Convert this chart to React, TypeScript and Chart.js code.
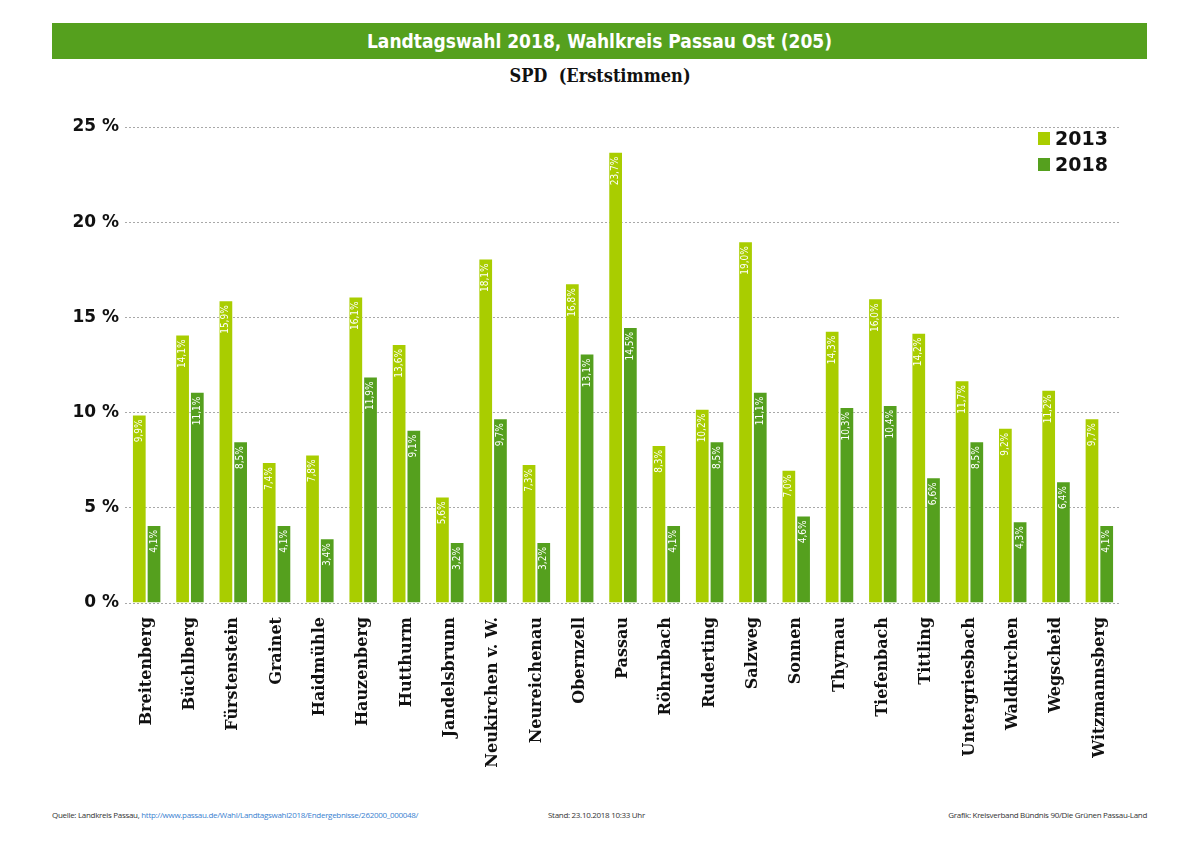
import React, { useEffect, useRef } from "react";
import { Chart, registerables } from "chart.js";

Chart.register(...registerables);

const categories = [
  "Breitenberg", "Büchlberg", "Fürstenstein", "Grainet", "Haidmühle", "Hauzenberg",
  "Hutthurm", "Jandelsbrunn", "Neukirchen v. W.", "Neureichenau", "Obernzell", "Passau",
  "Röhrnbach", "Ruderting", "Salzweg", "Sonnen", "Thyrnau", "Tiefenbach", "Tittling",
  "Untergriesbach", "Waldkirchen", "Wegscheid", "Witzmannsberg",
];
const values2013 = [9.9, 14.1, 15.9, 7.4, 7.8, 16.1, 13.6, 5.6, 18.1, 7.3, 16.8, 23.7, 8.3, 10.2, 19.0, 7.0, 14.3, 16.0, 14.2, 11.7, 9.2, 11.2, 9.7];
const values2018 = [4.1, 11.1, 8.5, 4.1, 3.4, 11.9, 9.1, 3.2, 9.7, 3.2, 13.1, 14.5, 4.1, 8.5, 11.1, 4.6, 10.3, 10.4, 6.6, 8.5, 4.3, 6.4, 4.1];
const seriesNames = ["2013", "2018"];
const yTicks = [0, 5, 10, 15, 20, 25];

const LIGHT = "#a9cd00";
const DARK = "#55a01e";

const fmt = (v: number) => v.toFixed(1).replace(".", ",") + "%";

const labelPlugin = {
  id: "barLabels",
  afterDatasetsDraw(chart: any) {
    const ctx = chart.ctx;
    ctx.save();
    ctx.fillStyle = "#ffffff";
    ctx.font = '10px "DejaVu Sans Condensed", "Liberation Sans Narrow", Roboto, sans-serif';
    ctx.textAlign = "right";
    ctx.textBaseline = "middle";
    chart.data.datasets.forEach((ds: any, di: number) => {
      const meta = chart.getDatasetMeta(di);
      meta.data.forEach((bar: any, i: number) => {
        const v = ds.data[i];
        ctx.save();
        ctx.translate(bar.x, bar.y + 5);
        ctx.rotate(-Math.PI / 2);
        ctx.fillText(fmt(v), 0, 0);
        ctx.restore();
      });
    });
    ctx.restore();
  },
};

export default function App() {
  const ref = useRef<HTMLCanvasElement>(null);

  useEffect(() => {
    document.body.style.margin = "0";
    const chart = new Chart(ref.current!, {
      type: "bar",
      data: {
        labels: categories,
        datasets: [
          { label: seriesNames[0], data: values2013, backgroundColor: LIGHT, borderColor: "rgba(255,255,255,0.3)", borderWidth: 1 },
          { label: seriesNames[1], data: values2018, backgroundColor: DARK, borderColor: "rgba(255,255,255,0.3)", borderWidth: 1 },
        ],
      },
      options: {
        animation: false,
        responsive: false,
        maintainAspectRatio: false,
        layout: { padding: { top: 27, right: 79, left: 0, bottom: 0 } },
        datasets: { bar: { barPercentage: 1, categoryPercentage: 0.68 } },
        plugins: { legend: { display: false }, tooltip: { enabled: false }, title: { display: false } },
        scales: {
          x: {
            grid: { display: false },
            border: { display: false },
            ticks: {
              minRotation: 90,
              maxRotation: 90,
              autoSkip: false,
              color: "#111",
              padding: 6,
              font: { family: '"DejaVu Serif", "Liberation Serif", serif', weight: "bold", size: 16 },
            },
            afterFit: (s: any) => { s.height = 197; },
          },
          y: {
            min: 0,
            max: 25,
            afterBuildTicks: (s: any) => { s.ticks = yTicks.map((v) => ({ value: v })); },
            grid: { color: "#a8a8a8", lineWidth: 1, drawTicks: false },
            border: { display: false, dash: [2, 2] },
            ticks: {
              padding: 6,
              color: "#111",
              font: { family: '"DejaVu Sans", sans-serif', weight: "bold", size: 17 },
              callback: (v: any) => v + " %",
            },
            afterFit: (s: any) => { s.width = 125; },
          },
        },
      },
      plugins: [labelPlugin],
    } as any);
    return () => chart.destroy();
  }, []);

  return (
    <div style={{ position: "relative", width: 1200, height: 848, background: "#fff", fontFamily: '"DejaVu Sans", sans-serif', overflow: "hidden" }}>
      <div style={{ position: "absolute", left: 52, top: 23, width: 1095, height: 36, background: DARK, color: "#fff", display: "flex", alignItems: "center", justifyContent: "center", fontFamily: '"DejaVu Sans Condensed", "DejaVu Sans", sans-serif', fontWeight: "bold", fontSize: 19 }}>
        Landtagswahl 2018, Wahlkreis Passau Ost (205)
      </div>
      <div style={{ position: "absolute", left: 0, top: 65, width: 1200, textAlign: "center", fontFamily: '"DejaVu Serif Condensed", "DejaVu Serif", serif', fontWeight: "bold", fontSize: 18, color: "#111", whiteSpace: "pre" }}>
        {"SPD  (Erststimmen)"}
      </div>
      <canvas ref={ref} width={1200} height={700} style={{ position: "absolute", left: 0, top: 100, width: 1200, height: 700 }} />
      <div style={{ position: "absolute", left: 1038, top: 125, fontFamily: '"DejaVu Sans", sans-serif', fontWeight: "bold", fontSize: 19, color: "#111", lineHeight: "26px" }}>
        {seriesNames.map((n, i) => (
          <div key={n} style={{ display: "flex", alignItems: "center" }}>
            <span style={{ display: "inline-block", width: 12, height: 13, background: i === 0 ? LIGHT : DARK, marginRight: 5 }} />
            {n}
          </div>
        ))}
      </div>
      <div style={{ position: "absolute", left: 52, top: 809, fontFamily: '"Open Sans", "DejaVu Sans Condensed", sans-serif', fontSize: 8, color: "#333", whiteSpace: "nowrap", letterSpacing: -0.3 }}>
        Quelle: Landkreis Passau, <span style={{ color: "#3a7fd0" }}>http://www.passau.de/Wahl/Landtagswahl2018/Endergebnisse/262000_000048/</span>
      </div>
      <div style={{ position: "absolute", left: 548, top: 809, fontFamily: '"Open Sans", "DejaVu Sans Condensed", sans-serif', fontSize: 8, color: "#333", whiteSpace: "nowrap", letterSpacing: -0.3 }}>
        Stand: 23.10.2018 10:33 Uhr
      </div>
      <div style={{ position: "absolute", right: 53, top: 809, fontFamily: '"Open Sans", "DejaVu Sans Condensed", sans-serif', fontSize: 8, color: "#333", whiteSpace: "nowrap", letterSpacing: -0.3 }}>
        Grafik: Kreisverband Bündnis 90/Die Grünen Passau-Land
      </div>
    </div>
  );
}
